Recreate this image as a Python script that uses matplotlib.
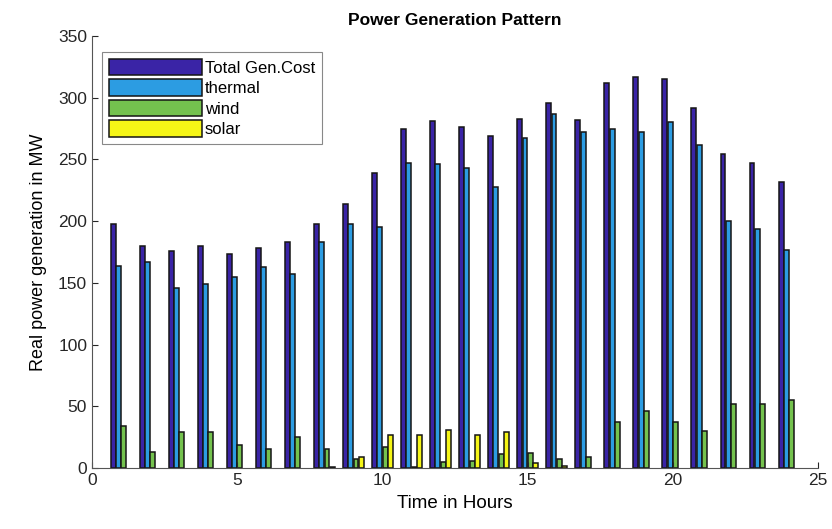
import numpy as np
import matplotlib.pyplot as plt

plt.rcParams['font.family'] = ['Liberation Sans', 'DejaVu Sans']

hours = np.arange(1, 25)

total = [198, 180, 176, 180, 173, 178, 183, 198, 214, 239, 275, 281,
         276, 269, 283, 296, 282, 312, 317, 315, 292, 254, 247, 232]
thermal = [164, 167, 146, 149, 155, 163, 157, 183, 198, 195, 247, 246,
           243, 228, 267, 287, 272, 275, 272, 280, 262, 200, 194, 177]
wind = [34, 13, 29, 29, 19, 15, 25, 15, 7, 17, 1, 5,
        6, 11, 12, 7, 9, 37, 46, 37, 30, 52, 52, 55]
solar = [0, 0, 0, 0, 0, 0, 0, 1, 9, 27, 27, 31,
         27, 29, 4, 2, 0, 0, 0, 0, 0, 0, 0, 0]

series = [total, thermal, wind, solar]
names = ['Total Gen.Cost', 'thermal', 'wind', 'solar']
colors = ['#3a24a6', '#2c9ce2', '#74c24e', '#f5f516']

fig = plt.figure(figsize=(8.32, 5.29), dpi=100)
ax = fig.add_axes([0.1106, 0.1153, 0.8726, 0.8167])

# grouped bars, four per hour; empty bars get no outline
step = 0.182
width = 0.17
for k, (vals, name, c) in enumerate(zip(series, names, colors)):
    off = (k - 1.5) * step
    lw = np.where(np.array(vals) > 0, 1.1, 0.0)
    ax.bar(hours + off, vals, width=width, color=c, edgecolor='#151515',
           linewidth=lw, label=name)

ax.set_xlim(0, 25)
ax.set_ylim(0, 350)
ax.set_xticks([0, 5, 10, 15, 20, 25])
ax.set_yticks(np.arange(0, 351, 50))
ax.tick_params(direction='in', labelsize=12.5, colors='#262626', length=4)
for s in ['top', 'right']:
    ax.spines[s].set_visible(False)
for s in ['left', 'bottom']:
    ax.spines[s].set_color('#555555')

ax.set_title('Power Generation Pattern', fontsize=12.5, fontweight='bold', pad=8)
ax.set_xlabel('Time in Hours', fontsize=13.5, labelpad=5)
ax.set_ylabel('Real power generation in MW', fontsize=13, labelpad=8)

leg = ax.legend(loc='upper left', bbox_to_anchor=(0.014, 0.963),
                borderaxespad=0, fontsize=12, handlelength=5.6,
                handleheight=1.15, handletextpad=0.15, labelspacing=0.22,
                borderpad=0.4, fancybox=False, framealpha=1)
leg.get_frame().set_edgecolor('#888888')
leg.get_frame().set_linewidth(0.8)
for h in leg.legend_handles:
    h.set_linewidth(1.1)

fig.savefig('out.png', dpi=100)
